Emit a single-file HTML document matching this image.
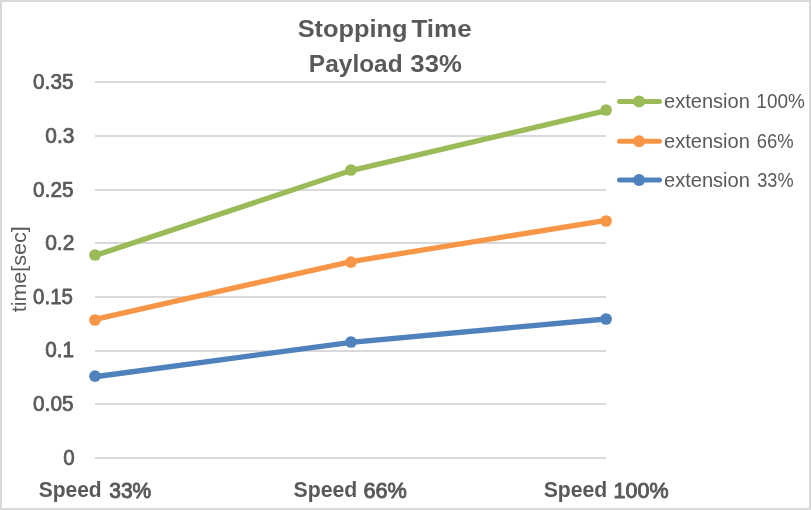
<!DOCTYPE html>
<html><head><meta charset="utf-8"><title>Stopping Time</title>
<style>html,body{margin:0;padding:0;background:#fff;overflow:hidden;}svg{display:block;will-change:transform;}text{font-family:"Liberation Sans",sans-serif;fill:#595959;}</style></head><body>
<svg width="811" height="510" viewBox="0 0 811 510">
<rect x="0" y="0" width="811" height="510" fill="#fff"/>
<rect x="1" y="1" width="809" height="508" fill="none" stroke="#D9D9D9" stroke-width="2"/>
<rect x="95" y="81" width="511" height="2" fill="#D9D9D9"/>
<rect x="95" y="135" width="511" height="2" fill="#D9D9D9"/>
<rect x="95" y="189" width="511" height="2" fill="#D9D9D9"/>
<rect x="95" y="242" width="511" height="2" fill="#D9D9D9"/>
<rect x="95" y="296" width="511" height="2" fill="#D9D9D9"/>
<rect x="95" y="350" width="511" height="2" fill="#D9D9D9"/>
<rect x="95" y="403" width="511" height="2" fill="#D9D9D9"/>
<rect x="95" y="457" width="511" height="2" fill="#D9D9D9"/>
<polyline points="95.0,376.75 351.0,342.30 606.1,319.00" fill="none" stroke="#4F81BD" stroke-width="5.3" stroke-linecap="round" stroke-linejoin="round"/>
<circle cx="95.0" cy="376.20" r="5.85" fill="#4F81BD"/>
<circle cx="351.0" cy="342.00" r="5.85" fill="#4F81BD"/>
<circle cx="606.1" cy="319.00" r="5.85" fill="#4F81BD"/>
<polyline points="95.0,319.45 351.0,261.55 606.1,220.45" fill="none" stroke="#F79646" stroke-width="5.3" stroke-linecap="round" stroke-linejoin="round"/>
<circle cx="95.0" cy="320.00" r="5.85" fill="#F79646"/>
<circle cx="351.0" cy="262.10" r="5.85" fill="#F79646"/>
<circle cx="606.1" cy="221.00" r="5.85" fill="#F79646"/>
<polyline points="95.0,255.60 351.0,170.60 606.1,110.60" fill="none" stroke="#9BBB59" stroke-width="5.3" stroke-linecap="round" stroke-linejoin="round"/>
<circle cx="95.0" cy="255.00" r="5.85" fill="#9BBB59"/>
<circle cx="351.0" cy="170.00" r="5.85" fill="#9BBB59"/>
<circle cx="606.1" cy="110.00" r="5.85" fill="#9BBB59"/>
<line x1="619.5" y1="101.4" x2="659.5" y2="101.4" stroke="#9BBB59" stroke-width="5" stroke-linecap="round"/>
<circle cx="639.1" cy="101.4" r="6" fill="#9BBB59"/>
<line x1="619.5" y1="141.2" x2="659.5" y2="141.2" stroke="#F79646" stroke-width="5" stroke-linecap="round"/>
<circle cx="639.1" cy="141.2" r="6" fill="#F79646"/>
<line x1="619.5" y1="180.1" x2="659.5" y2="180.1" stroke="#4F81BD" stroke-width="5" stroke-linecap="round"/>
<circle cx="639.1" cy="180.1" r="6" fill="#4F81BD"/>
<text transform="translate(297.70,36.60) scale(1.0396,1)" font-size="24.4" font-weight="bold">Stopping</text>
<text transform="translate(411.45,36.60) scale(1.0658,1)" font-size="24.4" font-weight="bold">Time</text>
<text transform="translate(308.87,71.50) scale(1.0026,1)" font-size="24.4" font-weight="bold">Payload</text>
<text transform="translate(410.34,71.50) scale(1.0551,1)" font-size="24.4" font-weight="bold">33%</text>
<text transform="translate(33.08,89.20) scale(0.9742,1)" font-size="21.3" stroke="#595959" stroke-width="0.75" stroke-linejoin="round">0.35</text>
<text transform="translate(45.27,142.91) scale(0.9804,1)" font-size="21.3" stroke="#595959" stroke-width="0.75" stroke-linejoin="round">0.3</text>
<text transform="translate(33.08,196.63) scale(0.9742,1)" font-size="21.3" stroke="#595959" stroke-width="0.75" stroke-linejoin="round">0.25</text>
<text transform="translate(45.17,250.34) scale(0.9859,1)" font-size="21.3" stroke="#595959" stroke-width="0.75" stroke-linejoin="round">0.2</text>
<text transform="translate(33.08,304.06) scale(0.9619,1)" font-size="21.3" stroke="#595959" stroke-width="0.75" stroke-linejoin="round">0.15</text>
<text transform="translate(45.18,356.77) scale(0.9714,1)" font-size="21.3" stroke="#595959" stroke-width="0.75" stroke-linejoin="round">0.1</text>
<text transform="translate(33.08,411.49) scale(0.9742,1)" font-size="21.3" stroke="#595959" stroke-width="0.75" stroke-linejoin="round">0.05</text>
<text transform="translate(63.18,465.10) scale(0.9659,1)" font-size="21.3" stroke="#595959" stroke-width="0.75" stroke-linejoin="round">0</text>
<text transform="translate(38.68,497.40) scale(0.9858,1)" font-size="21.3" font-weight="bold">Speed</text>
<text transform="translate(109.24,497.90) scale(0.9729,1)" font-size="21.6" stroke="#595959" stroke-width="0.95" stroke-linejoin="round">33%</text>
<text transform="translate(293.47,497.40) scale(0.9987,1)" font-size="21.3" font-weight="bold">Speed</text>
<text transform="translate(363.50,497.90) scale(1.0040,1)" font-size="21.6" stroke="#595959" stroke-width="0.95" stroke-linejoin="round">66%</text>
<text transform="translate(543.67,497.40) scale(0.9955,1)" font-size="21.3" font-weight="bold">Speed</text>
<text transform="translate(613.62,497.90) scale(0.9953,1)" font-size="21.6" stroke="#595959" stroke-width="0.95" stroke-linejoin="round">100%</text>
<text transform="translate(663.99,107.60) scale(1.0238,1)" font-size="19.6">extension</text>
<text transform="translate(756.34,107.60) scale(0.9680,1)" font-size="19.6">100%</text>
<text transform="translate(663.99,148.00) scale(1.0238,1)" font-size="19.6">extension</text>
<text transform="translate(756.65,148.00) scale(0.9405,1)" font-size="19.6">66%</text>
<text transform="translate(663.99,186.60) scale(1.0238,1)" font-size="19.6">extension</text>
<text transform="translate(757.24,186.60) scale(0.9253,1)" font-size="19.6">33%</text>
<text transform="translate(26.10,312.35) rotate(-90) scale(1.0515,1)" font-size="20.5">time[sec]</text>
</svg></body></html>
